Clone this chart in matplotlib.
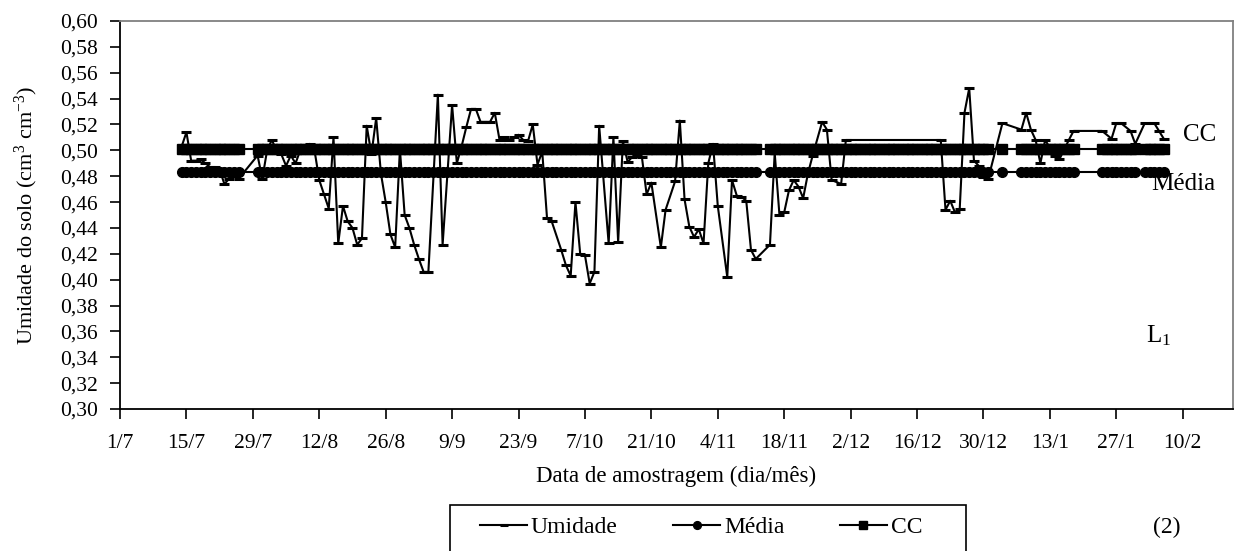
import numpy as np
import matplotlib
matplotlib.use("Agg")
import matplotlib.pyplot as plt
from matplotlib.ticker import FuncFormatter
from matplotlib.patches import Rectangle

plt.rcParams['font.family'] = ['Liberation Serif', 'DejaVu Serif']
plt.rcParams['mathtext.fontset'] = 'custom'
plt.rcParams['mathtext.rm'] = 'Liberation Serif'
plt.rcParams['mathtext.it'] = 'Liberation Serif:italic'

# dias contados a partir de 1/7
tick_dias = [0, 14, 28, 42, 56, 70, 84, 98, 112, 126, 140, 154, 168, 182, 196, 210, 224]
tick_rotulos = ['1/7', '15/7', '29/7', '12/8', '26/8', '9/9', '23/9', '7/10', '21/10',
                '4/11', '18/11', '2/12', '16/12', '30/12', '13/1', '27/1', '10/2']

# datas com registro de Média e CC
dias_ref = [*range(13, 26), *range(29, 135), *range(137, 184), 186,
            *range(190, 202), *range(207, 215), *range(216, 221)]
media_valor = 0.483
cc_valor = 0.501

umid_dias = [13, 14, 15, 16, 17, 18, 19, 20, 21, 22, 23, 24, 25,
             29, 30, 31, 32, 33, 34, 35, 36, 37, 38, 39, 40, 41, 42, 43, 44, 45, 46, 47, 48, 49,
             50, 51, 52, 53, 54, 55, 56, 57, 58, 59, 60, 61, 62, 63, 64, 65,
             67, 68, 70, 71, 72, 73, 74, 75, 76, 77, 78, 79, 80, 81, 82, 83, 84, 85, 86, 87,
             88, 89, 90, 91, 93, 94, 95, 96, 97, 98, 99, 100, 101, 103, 104, 105, 106, 107,
             108, 109, 110, 111, 112, 114, 115,
             117, 118, 119, 120, 121, 122, 123, 124, 125, 126, 128, 129, 130, 131, 132, 133, 134,
             137, 138, 139, 140, 141, 142, 143, 144, 145, 146, 148, 149, 150, 152, 153,
             173, 174, 175, 176, 177, 178, 179, 180, 181, 182, 183,
             186, 190, 191, 192, 193, 194, 195, 197, 198, 200, 201,
             207, 209, 210, 211, 213, 214, 216, 218, 219, 220]
umid_vals = [0.503, 0.514, 0.492, 0.492, 0.493, 0.490, 0.487, 0.487, 0.485, 0.474, 0.478, 0.480, 0.478,
             0.496, 0.478, 0.500, 0.508, 0.500, 0.497, 0.488, 0.496, 0.490, 0.500, 0.503, 0.505, 0.500,
             0.477, 0.466, 0.455, 0.510, 0.428, 0.457, 0.445, 0.440,
             0.427, 0.432, 0.519, 0.497, 0.525, 0.482, 0.460, 0.435, 0.425, 0.501, 0.450, 0.440,
             0.427, 0.416, 0.406, 0.406,
             0.543, 0.427, 0.535, 0.490, 0.503, 0.518, 0.532, 0.532, 0.522, 0.522, 0.522, 0.529,
             0.508, 0.510, 0.508, 0.510, 0.512, 0.508, 0.507, 0.520,
             0.489, 0.499, 0.448, 0.445, 0.423, 0.411, 0.403, 0.460, 0.420, 0.419, 0.397, 0.406,
             0.519, 0.428, 0.510, 0.429, 0.507, 0.491,
             0.495, 0.496, 0.495, 0.466, 0.475, 0.425, 0.454,
             0.476, 0.523, 0.462, 0.441, 0.433, 0.439, 0.428, 0.490, 0.505, 0.457, 0.402, 0.477,
             0.465, 0.464, 0.461, 0.423, 0.416,
             0.427, 0.498, 0.450, 0.452, 0.469, 0.477, 0.472, 0.463, 0.482, 0.496, 0.522, 0.516,
             0.477, 0.474, 0.508,
             0.508, 0.454, 0.461, 0.452, 0.455, 0.529, 0.548, 0.492, 0.488, 0.479, 0.478,
             0.521, 0.516, 0.529, 0.516, 0.508, 0.490, 0.508, 0.496, 0.493, 0.508, 0.515,
             0.515, 0.509, 0.521, 0.521, 0.515, 0.505, 0.521, 0.521, 0.515, 0.509]

W, H = 1236, 551
fig = plt.figure(figsize=(W / 100, H / 100), dpi=100)
ax = fig.add_axes([120 / W, 1 - 409 / H, 1113 / W, 388 / H])

ax.plot(dias_ref, np.full(len(dias_ref), cc_valor), color='black', lw=1.5,
        marker='s', ms=7.8, label='CC', zorder=2)
ax.plot(dias_ref, np.full(len(dias_ref), media_valor), color='black', lw=1.5,
        marker='o', ms=7, label='Média', zorder=2)
ax.plot(umid_dias, umid_vals, color='black', lw=1.5, marker='_', ms=7, mew=2.2,
        label='Umidade', zorder=3)

ax.set_xlim(0, 234.6)
ax.set_ylim(0.30, 0.60)
ax.set_xticks(tick_dias)
ax.set_xticklabels(tick_rotulos)
ax.set_yticks(np.arange(0.30, 0.601, 0.02))
ax.yaxis.set_major_formatter(FuncFormatter(lambda v, p: f'{v:.2f}'.replace('.', ',')))
ax.tick_params(axis='both', direction='out', length=7, width=1.2, labelsize=15.5, colors='black')
ax.tick_params(axis='x', pad=11)
ax.tick_params(axis='y', pad=9)

for s in ['left', 'bottom']:
    ax.spines[s].set_color('black')
    ax.spines[s].set_linewidth(1.3)
for s in ['top', 'right']:
    ax.spines[s].set_color('#808080')
    ax.spines[s].set_linewidth(1.3)

ax.set_xlabel('Data de amostragem (dia/mês)', fontsize=16.5)
ax.xaxis.label.set_va('center')
ax.xaxis.set_label_coords(0.5, -0.175)
ax.set_ylabel('Umidade do solo (cm$^{3}$ cm$^{-3}$)', fontsize=16)
ax.yaxis.label.set_va('center')
ax.yaxis.set_label_coords(-0.084, 0.5)

ax.text(227.5, 0.5117, 'CC', fontsize=18, ha='center', va='center')
ax.text(224.1, 0.4737, 'Média', fontsize=18, ha='center', va='center')
ax.text(219, 0.3566, 'L$_1$', fontsize=18, ha='center', va='center')

# caixa da legenda (ultrapassa a borda inferior, como no original)
fig.add_artist(Rectangle((450 / W, 1 - 565 / H), 516 / W, 60 / H, transform=fig.transFigure,
                         facecolor='white', edgecolor='black', lw=1.2, clip_on=False))

h, l = ax.get_legend_handles_labels()
order = [2, 1, 0]
leg = fig.legend([h[i] for i in order], [l[i] for i in order], ncol=3,
                 loc='center left', bbox_to_anchor=(480 / W, 1 - 527 / H),
                 frameon=False, fontsize=17, handlelength=2.0, handletextpad=0.15,
                 columnspacing=2.35, borderpad=0, borderaxespad=0, markerscale=0.8)

fig.text(1167 / W, 1 - 527 / H, '(2)', fontsize=17, ha='center', va='center')

fig.savefig('out.png', dpi=100)
